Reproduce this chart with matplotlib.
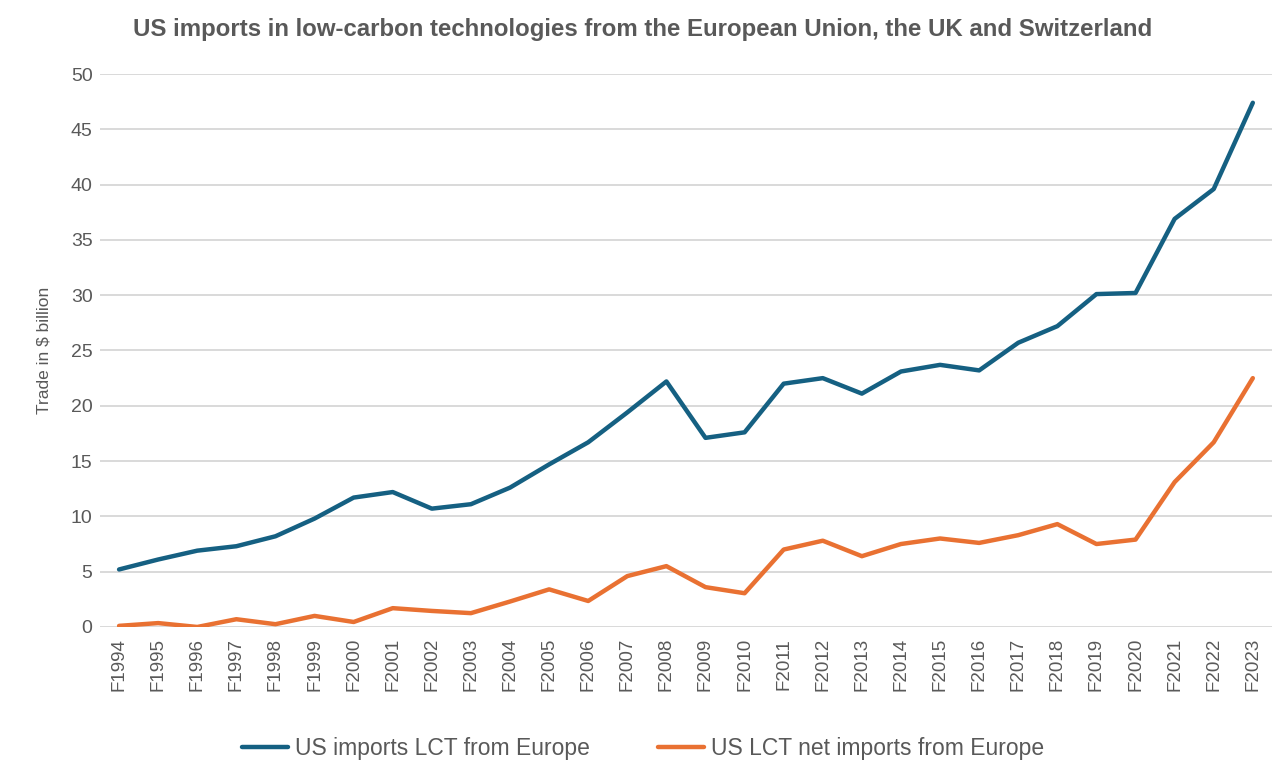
import matplotlib
matplotlib.use("Agg")
from matplotlib import pyplot as plt

years = [f"F{y}" for y in range(1994, 2024)]

importsLct = [5.2, 6.1, 6.9, 7.3, 8.2, 9.8, 11.7, 12.2, 10.7, 11.1,
              12.6, 14.7, 16.7, 19.4, 22.2, 17.1, 17.6, 22.0, 22.5, 21.1,
              23.1, 23.7, 23.2, 25.7, 27.2, 30.1, 30.2, 36.9, 39.6, 47.4]

netImportsLct = [0.1, 0.35, 0.0, 0.7, 0.25, 1.0, 0.45, 1.7, 1.45, 1.25,
                 2.3, 3.4, 2.35, 4.6, 5.5, 3.6, 3.05, 7.0, 7.8, 6.4,
                 7.5, 8.0, 7.6, 8.3, 9.3, 7.5, 7.9, 13.1, 16.7, 22.5]

font = ['Liberation Sans', 'DejaVu Sans']
textGray = '#595959'

fig = plt.figure(figsize=(12.86, 7.84), dpi=100)
ax = fig.add_axes([0.0774, 0.2003, 0.912, 0.7053])

x = list(range(len(years)))
ax.plot(x, importsLct, color='#156082', linewidth=3.2, label='US imports LCT from Europe',
        solid_joinstyle='round', solid_capstyle='round')
ax.plot(x, netImportsLct, color='#E97132', linewidth=3.2, label='US LCT net imports from Europe',
        solid_joinstyle='round', solid_capstyle='round')

ax.set_xlim(-0.5, len(years) - 0.5)
ax.set_ylim(0, 50)
ax.set_yticks(range(0, 51, 5))
ax.grid(axis='y', color='#d9d9d9', linewidth=1.4)
ax.set_axisbelow(True)
for side in ['top', 'right', 'left', 'bottom']:
    ax.spines[side].set_visible(False)

ax.set_xticks(x)
ax.set_xticklabels(years, rotation=90, fontsize=13.5, color=textGray, family=font)
ax.tick_params(axis='both', length=0)
ax.tick_params(axis='x', pad=8)
ax.tick_params(axis='y', pad=5)
for lbl in ax.get_yticklabels():
    lbl.set_family(font)
    lbl.set_fontsize(14)
    lbl.set_color(textGray)

ax.set_ylabel('Trade in $ billion', fontsize=12.5, color=textGray, family=font, labelpad=14)

fig.text(0.5, 0.962, 'US imports in low-carbon technologies from the European Union, the UK and Switzerland',
         ha='center', va='center', fontsize=17.3, fontweight='bold', color=textGray, family=font)

leg = fig.legend(loc='center', bbox_to_anchor=(0.5, 0.045), ncol=2, frameon=False,
                 prop={'family': font, 'size': 16.5}, handlelength=2.0, handletextpad=0.3,
                 columnspacing=3.0)
for t in leg.get_texts():
    t.set_color(textGray)

plt.savefig("out.png", dpi=100)
plt.close()
